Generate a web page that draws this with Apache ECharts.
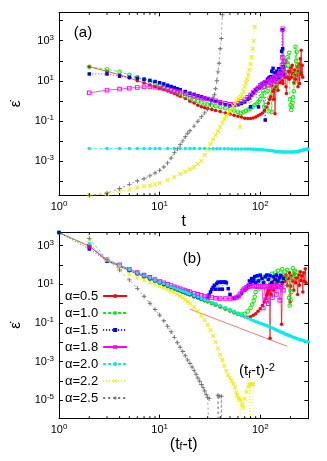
<!DOCTYPE html>
<html><head><meta charset="utf-8">
<script src="https://cdn.jsdelivr.net/npm/echarts@6/dist/echarts.min.js"></script>
<style>html,body{margin:0;padding:0;background:#fff}#c{width:327px;height:461px}</style>
</head><body><div id="c"></div>
<script>
// ---------- Panel (a): strain rate vs t ----------
const A_05 = [[2,50],[3,30],[4,20],[5,14],[6,10],[7,8],[8,6.2],[9,5.2],[10,4.3],[11,3.7],[12,3.1],[13,2.65],[14,2.3],[15,1.95],[16,1.7],[18,1.3],[20,0.95],[22,0.78],[24,0.6],[26,0.5],[28,0.45],[30,0.41],[33,0.37],[36,0.33],[40,0.29],[45,0.25],[50,0.22],[55,0.19],[60,0.17],[65,0.155],[70,0.135],[75,0.13],[80,0.13],[85,0.14],[90,0.155],[95,0.18],[100,0.21],[105,0.25],[110,0.33],[115,0.48],[120,0.75],[124,1.2],[127,1.6],[130,6],[132,12],[134,3],[136,1.2],[138,4],[140,0.23],[143,5],[146,12],[150,3.4],[154,20],[158,8],[162,25],[166,10],[168,7.4],[172,30],[176,15],[180,5],[182,2.3],[186,15],[190,30],[194,12],[196,28],[200,45],[204,15],[208,60],[212,23],[216,8],[220,35],[224,12],[229,19],[233,50],[237,5],[240,30],[243,70],[246,7.4],[249,126],[252,25],[255,340],[258,20],[261,60],[264,15]];
const A_10 = [[2,50],[3,38],[4,28],[5,20],[6,15],[7,11.5],[8,9],[9,7.5],[10,6],[11,5],[12,4.2],[13,3.6],[14,3.1],[15,2.6],[16,2.2],[18,1.7],[20,1.35],[22,1.1],[24,0.95],[26,0.82],[28,0.72],[30,0.65],[33,0.58],[36,0.53],[40,0.48],[45,0.43],[50,0.39],[55,0.33],[60,0.28],[64,0.25],[68,0.27],[72,0.32],[76,0.37],[80,0.42],[84,0.5],[88,0.6],[92,0.72],[96,0.9],[100,1.2],[103,1.8],[106,3],[109,0.5],[112,5],[115,8],[118,3],[121,0.3],[124,6],[127,12],[130,0.28],[134,10],[138,20],[142,5],[146,25],[150,12],[154,35],[158,15],[162,40],[166,20],[170,60],[174,25],[178,100],[182,40],[186,150],[190,60],[194,250],[197,1.2],[200,0.6],[203,0.35],[206,0.5],[209,0.8],[212,1.5],[215,3],[218,8],[221,20],[224,500],[227,100],[230,280],[233,60],[236,30]];
const A_15 = [[2,22],[3,22],[4,17],[5,15],[6,13.5],[7,12],[8,10.5],[9,9.2],[10,8],[11,7],[12,6],[13,5.2],[14,4.6],[15,4],[16,3.6],[18,2.9],[20,2.4],[22,2.1],[24,1.8],[26,1.6],[28,1.4],[30,1.25],[33,1.05],[36,0.92],[40,0.76],[45,0.65],[50,0.57],[55,0.58],[60,0.64],[65,0.74],[70,0.88],[75,1.2],[78,1.4],[80,0.5],[82,1.9],[86,2.6],[90,3.5],[93,4],[96,0.5],[98,4.5],[102,5.5],[106,7],[109,8],[112,0.11],[114,9],[118,12],[122,14],[126,16],[130,30],[132,10],[134,42],[137,15],[140,25],[143,12],[146,30],[149,20],[152,40],[155,15],[158,35],[161,25],[163,300],[165,3500],[167,400],[169,50],[171,20]];
const A_18 = [[2,2.5],[3,3.4],[4,3.85],[5,4.3],[6,4.7],[7,5],[8,5],[9,4.8],[10,4.4],[11,4.1],[12,3.7],[13,3.4],[14,3.1],[15,2.85],[16,2.65],[18,2.25],[20,1.98],[22,1.75],[24,1.55],[26,1.4],[28,1.3],[30,1.22],[33,1.12],[36,1.0],[40,0.85],[45,0.75],[50,0.67],[55,0.68],[60,0.76],[65,0.93],[70,1.15],[75,1.5],[80,1.95],[85,2.6],[90,3.4],[95,4.5],[100,6],[104,7],[108,5],[112,8.5],[116,9],[120,6],[124,11],[128,8],[132,13],[136,10],[140,15],[144,9],[148,18],[152,14],[155,23],[158,30],[161,20],[164,60],[166,150],[168,4000],[170,40],[172,90],[174,20],[176,89]];
const A_20 = [[2,4.2e-3],[3,4.2e-3],[4,4.2e-3],[5,4.2e-3],[6,4.2e-3],[7,4.2e-3],[8,4.2e-3],[9,4.2e-3],[10,4.2e-3],[12,4.2e-3],[14,4.2e-3],[16,4.2e-3],[18,4.2e-3],[20,4.2e-3],[22,4.2e-3],[25,4.2e-3],[28,4.2e-3],[31,4.1e-3],[34,4.1e-3],[37,4.1e-3],[40,4.1e-3],[44,4.1e-3],[48,4.1e-3],[52,4e-3],[56,4e-3],[60,4e-3],[65,4e-3],[70,3.9e-3],[75,3.9e-3],[80,3.9e-3],[85,3.8e-3],[90,3.8e-3],[95,3.7e-3],[100,3.7e-3],[106,3.6e-3],[112,3.5e-3],[118,3.4e-3],[124,3.3e-3],[130,3.2e-3],[136,3.1e-3],[142,3.0e-3],[148,2.95e-3],[154,2.9e-3],[160,2.85e-3],[166,2.8e-3],[172,2.8e-3],[178,2.8e-3],[184,2.8e-3],[190,2.8e-3],[196,2.8e-3],[202,2.8e-3],[208,2.8e-3],[214,2.8e-3],[220,2.85e-3],[226,2.9e-3],[232,2.95e-3],[238,3.0e-3],[244,3.1e-3],[250,3.2e-3],[256,3.3e-3],[262,3.4e-3],[268,3.5e-3],[274,3.6e-3],[280,3.7e-3],[286,3.8e-3],[292,3.9e-3],[298,4.0e-3]];
const A_22 = [[2,1.9e-5],[3,2.3e-5],[4,3.2e-5],[5,3.7e-5],[6,4.7e-5],[7,5.4e-5],[8,6e-5],[9,6.8e-5],[10,8e-5],[12,1.1e-4],[14,1.6e-4],[16,2.2e-4],[18,2.9e-4],[20,3.8e-4],[22,5e-4],[24,7e-4],[26,1e-3],[28,2e-3],[30,4e-3],[32,7e-3],[34,0.012],[36,0.02],[38,0.03],[40,0.05],[42,0.08],[44,0.12],[46,0.18],[48,0.25],[50,0.33],[52,0.42],[54,0.55],[56,0.7],[58,0.9],[60,1.2],[62,1.4],[63,0.05],[64,1.6],[66,2],[68,3],[70,5],[72,8],[74,12],[76,20],[78,35],[80,70],[82,150],[84,400],[86,1000],[88,5000]];
const A_25 = [[2,1.9e-5],[3,2.5e-5],[4,4.2e-5],[5,6.8e-5],[6,1e-4],[7,1.3e-4],[8,1.8e-4],[9,2.5e-4],[10,3.4e-4],[11,5e-4],[12,8e-4],[13,1.4e-3],[14,2.6e-3],[15,4e-3],[16,6.5e-3],[17,0.01],[18,0.016],[19,0.024],[20,0.032],[22,0.055],[24,0.095],[26,0.16],[28,0.25],[30,0.38],[32,0.7],[34,1.4],[35,2],[36,4],[37,10],[38,28],[39,75],[40,400],[41,1300],[42,20000],[43,300000]];

// ---------- Panel (b): strain rate vs (tf - t) ----------
const B_05 = [[1,4800],[2,950],[3,165],[4,88],[5,51],[6,34],[7,24.5],[8,18.5],[9,14.5],[10,11.4],[11,9.3],[12,7.8],[13,6.6],[14,5.7],[15,5],[16,4.4],[17,3.9],[18,3.5],[19,3.1],[20,2.8],[22,2.3],[24,1.95],[26,1.65],[28,1.4],[30,1.25],[33,1.02],[36,0.85],[40,0.68],[45,0.53],[50,0.42],[55,0.34],[60,0.28],[65,0.24],[70,0.21],[75,0.2],[80,0.21],[85,0.25],[90,0.3],[95,0.4],[100,0.55],[105,0.8],[110,1.2],[113,1.8],[116,2.7],[118,3.5],[120,4.8],[122,7],[124,10],[125,0.016],[126,6],[128,3],[130,9],[133,14],[136,5],[140,11],[143,18],[146,7],[150,13],[155,22],[160,9],[163,0.085],[166,12],[170,25],[175,14],[180,30],[185,9],[190,20],[195,40],[198,1.2],[200,8],[205,28],[210,15],[215,5],[220,35],[225,12],[230,22],[235,3],[240,30],[245,9],[250,45],[255,16],[260,28],[265,4],[270,40],[275,14],[280,65],[285,12]];
const B_10 = [[1,4800],[2,950],[3,170],[4,92],[5,54],[6,36],[7,26],[8,19.5],[9,15.3],[10,12],[11,9.8],[12,8.2],[13,7],[14,6],[15,5.3],[16,4.6],[17,4.1],[18,3.7],[19,3.3],[20,2.95],[22,2.45],[24,2.05],[26,1.75],[28,1.5],[30,1.32],[33,1.08],[36,0.9],[40,0.72],[45,0.56],[50,0.45],[55,0.36],[60,0.3],[65,0.27],[70,0.3],[75,0.4],[80,0.6],[83,0.9],[86,1.4],[88,2.3],[90,4],[92,8],[95,14],[98,6],[100,18],[105,10],[110,25],[115,8],[120,30],[125,15],[130,35],[135,10],[140,40],[145,20],[150,50],[155,15],[160,30],[165,60],[170,20],[175,45],[180,25],[185,55],[190,8],[193,2],[196,0.8],[200,1.5],[204,4],[207,20],[211,68],[215,35],[220,50],[225,30],[230,45]];
const B_15 = [[1,4800],[2,680],[3,160],[4,90],[5,54],[6,37],[7,27],[8,20],[9,15.8],[10,12.5],[11,10.2],[12,8.6],[13,7.3],[14,6.3],[15,5.5],[16,4.8],[17,4.3],[18,3.85],[19,3.45],[20,3.1],[22,2.55],[24,2.15],[26,1.85],[28,1.65],[30,1.8],[31,2.8],[32,4],[33,5.5],[34,7],[35,9],[36,5.6],[37,11],[38,13],[39,5.6],[40,13],[41,13],[42,5.6],[43,13],[44,13],[45,13],[46,12],[48,6],[50,3],[55,1.9],[60,2.3],[65,3.5],[70,5],[73,6],[76,9],[78,15],[80,10],[82,20],[84,14],[86,18],[88,25],[90,12],[93,28],[96,15],[100,30],[104,20],[108,12],[112,25],[116,30],[120,18],[125,28],[130,12],[135,25],[140,18],[145,30],[150,15],[155,22],[160,28],[165,12],[170,20]];
const B_18 = [[2,950],[3,190],[4,102],[5,61],[6,41],[7,30],[8,23],[9,18],[10,14.5],[11,12],[12,10],[13,8.6],[14,7.5],[15,6.6],[16,5.9],[17,5.3],[18,4.8],[19,4.4],[20,4.1],[22,3.5],[24,3.05],[26,2.7],[28,2.45],[30,2.25],[33,2.05],[36,1.9],[40,1.85],[45,1.85],[50,1.85],[55,1.9],[58,2.1],[61,2.5],[63,3.2],[66,4.2],[68,5.2],[70,6],[73,7],[76,7.5],[80,8],[84,8.2],[88,8],[92,7.8],[96,8],[100,7.6],[104,8],[107,0.6],[110,7.8],[114,1.5],[117,8],[120,1],[124,7.5],[128,8],[132,2],[136,7.6],[140,8],[144,3],[148,7.8],[152,8],[156,1.5],[160,7],[165,9],[170,5]];
const B_20 = [[2,1300],[3,185],[4,100],[5,58],[6,39],[7,28],[8,21],[9,16.5],[10,13],[11,10.6],[12,8.9],[13,7.6],[14,6.5],[15,5.7],[16,5.0],[17,4.4],[18,3.95],[19,3.5],[20,3.15],[22,2.6],[24,2.2],[26,1.85],[28,1.6],[30,1.4],[33,1.15],[36,0.95],[40,0.77],[45,0.6],[50,0.45],[55,0.37],[60,0.3],[65,0.25],[70,0.21],[75,0.18],[80,0.155],[85,0.135],[90,0.12],[95,0.108],[100,0.097],[105,0.088],[110,0.08],[115,0.073],[120,0.067],[125,0.061],[130,0.056],[135,0.051],[140,0.047],[145,0.043],[150,0.04],[155,0.037],[160,0.034],[165,0.032],[170,0.03],[175,0.028],[180,0.026],[185,0.0245],[190,0.023],[195,0.022],[200,0.021],[210,0.019],[220,0.017],[230,0.0155],[240,0.0145],[250,0.0135],[260,0.0127],[270,0.012],[280,0.0114],[290,0.0109],[300,0.0105]];
const B_22 = [[2,2000],[3,195],[4,80],[5,33],[6,22],[7,16.5],[8,12.5],[9,9.8],[10,7.8],[11,6.4],[12,5.3],[13,4.5],[14,3.8],[15,3.1],[16,2.5],[17,2],[18,1.6],[19,1.26],[20,1.0],[22,0.65],[24,0.4],[26,0.24],[28,0.14],[30,0.08],[32,0.043],[34,0.021],[36,0.01],[38,0.0048],[40,0.0023],[42,0.0012],[44,6e-4],[46,3.3e-4],[48,2e-4],[50,1.4e-4],[52,1e-4],[54,7e-5],[56,4.5e-5],[58,2.5e-5],[59,1.8e-5],[61,1.3e-5],[62,1.1e-5],[63,1e-9],[64,1e-5],[66,6e-6],[68,4e-6],[70,1.2e-5],[73,2.7e-5],[76,5e-5],[78,6.5e-5],[79,1e-9],[80,6.6e-5],[83,6.6e-5],[85,6.6e-5],[86,1e-9]];
const B_25 = [[2,2400],[3,190],[4,55],[5,17],[6,6.2],[7,2.4],[8,1.05],[9,0.5],[10,0.26],[11,0.13],[12,0.067],[13,0.035],[14,0.018],[15,0.0095],[16,0.0055],[17,0.0033],[18,0.002],[19,0.0012],[20,0.0008],[21,0.00052],[22,0.00034],[23,0.00022],[24,0.00014],[25,9.5e-5],[26,6.5e-5],[27,4.5e-5],[28,3e-5],[29,2e-5],[30,1.4e-5],[31,1.2e-5],[32,1e-9],[37,1e-9],[38,1.8e-5],[39,1.6e-5],[40,1e-9],[41,1.6e-5],[42,1e-9]];
const B_powerLaw = [[20,0.52],[185,0.0062]];

const seriesNames = ['α=0.5','α=1.0','α=1.5','α=1.8','α=2.0','α=2.2','α=2.5'];
const panelA = [A_05, A_10, A_15, A_18, A_20, A_22, A_25];
const panelB = [B_05, B_10, B_15, B_18, B_20, B_22, B_25];
const minorTicks = [2,3,4,5,6,7,8,9,20,30,40,50,60,70,80,90,200];

// ---------- styles ----------
const RING = 'path://M5,0A5,5 0 1,1 5,10A5,5 0 1,1 5,0ZM5,2A3,3 0 1,0 5,8A3,3 0 1,0 5,2Z';
const SQRING = 'path://M0,0H10V10H0ZM2,2V8H8V2Z';
const XSYM = 'path://M0,1.5L1.5,0L5,3.5L8.5,0L10,1.5L6.5,5L10,8.5L8.5,10L5,6.5L1.5,10L0,8.5L3.5,5Z';
const PLUS = 'path://M4,0H6V4H10V6H6V10H4V6H0V4H4Z';
const st = [
  {c:'#ff0000', s:'circle', z:3.5, d:'solid'},
  {c:'#00ee00', s:RING, z:4.5, d:[3,2]},
  {c:'#0000ff', s:'rect', z:3.5, d:[1,2]},
  {c:'#ff00ff', s:SQRING, z:4.5, d:'solid'},
  {c:'#00eeee', s:'circle', z:3.5, d:[3,2]},
  {c:'#eeee00', s:XSYM, z:4.5, d:[1,2]},
  {c:'#707070', s:PLUS, z:4.5, d:[2,3]}
];
const FONT = 'Liberation Sans, Arial, sans-serif';

function powLabel(oddOnly){
  return function(v){
    const l = Math.log10(v), e = Math.round(l);
    if (Math.abs(l - e) > 1e-6) return '';
    if (oddOnly && Math.abs(e % 2) !== 1) return '';
    return '{b|10}{s|' + e + '}';
  };
}
const labRich = {
  b:{fontSize:11, fontFamily:FONT, color:'#000', lineHeight:14},
  s:{fontSize:8, fontFamily:FONT, color:'#000', lineHeight:8, verticalAlign:'top'}
};
function xAx(grid, pos, labels, name, nameGap){
  return {type:'log', gridIndex:grid, position:pos, min:1, max:300,
    name: name || '', nameLocation:'middle', nameGap: nameGap || 0,
    nameTextStyle:{fontSize:16, fontFamily:FONT, color:'#000',
      rich:{n:{fontSize:16,fontFamily:FONT,color:'#000'}, sub:{fontSize:10,fontFamily:FONT,color:'#000',verticalAlign:'bottom',lineHeight:12}}},
    axisLine:{show:true, onZero:false, lineStyle:{color:'#000', width:1}},
    axisTick:{show:true, inside:true, length:4, lineStyle:{color:'#000'}},
    axisLabel:{show:labels, margin:4, formatter:powLabel(false), rich:labRich},
    splitLine:{show:false}};
}
function yAx(grid, pos, labels, min, max){
  return {type:'log', gridIndex:grid, position:pos, min:min, max:max,
    name: labels ? 'ε\u0307' : '', nameLocation:'middle', nameGap:36, nameRotate:90,
    nameTextStyle:{fontSize:15, fontFamily:FONT, color:'#000'},
    axisLine:{show:true, onZero:false, lineStyle:{color:'#000', width:1}},
    axisTick:{show:true, inside:true, length:4, lineStyle:{color:'#000'}},
    axisLabel:{show:labels, margin:5, formatter:powLabel(true), rich:labRich},
    splitLine:{show:false}};
}

const series = [];
function addPanel(sets, xi, yi){
  sets.forEach(function(d, i){
    series.push({type:'line', name:seriesNames[i], xAxisIndex:xi, yAxisIndex:yi, data:d,
      symbol:st[i].s, symbolSize:st[i].z, showAllSymbol:true, clip:true,
      lineStyle:{width:0.7, type:st[i].d, color:st[i].c},
      itemStyle:{color:st[i].c}, emphasis:{disabled:true}, silent:true, animation:false});
  });
}
addPanel(panelA, 0, 0);
addPanel(panelB, 2, 2);
series.push({type:'line', name:'powerlaw', xAxisIndex:2, yAxisIndex:2, data:B_powerLaw,
  symbol:'none', lineStyle:{width:1, color:'#ff7777'}, silent:true, animation:false});
function minorSeries(xi, yi){
  return {type:'custom', xAxisIndex:xi, yAxisIndex:yi, silent:true, animation:false, z:10,
    data:minorTicks.map(function(v){return [v,1];}),
    renderItem:function(params, api){
      const x = api.coord([api.value(0), 1])[0];
      const cs = params.coordSys;
      const yb = cs.y + cs.height, yt = cs.y;
      return {type:'group', children:[
        {type:'line', shape:{x1:x,y1:yb,x2:x,y2:yb-2.5}, style:{stroke:'#000', lineWidth:1}},
        {type:'line', shape:{x1:x,y1:yt,x2:x,y2:yt+2.5}, style:{stroke:'#000', lineWidth:1}}
      ]};
    }};
}
series.push(minorSeries(0,0));
series.push(minorSeries(2,2));

const chart = echarts.init(document.getElementById('c'), null, {renderer:'canvas'});
chart.setOption({
  animation:false,
  backgroundColor:'#fff',
  grid:[
    {left:56.7, right:18.7, top:12.3, bottom:265.3},
    {left:56.7, right:18.7, top:232.3, bottom:42.3}
  ],
  xAxis:[
    xAx(0,'bottom',true,'t',14),
    xAx(0,'top',false),
    xAx(1,'bottom',true,'{n|(t}{sub|f}{n|-t)}',12),
    xAx(1,'top',false)
  ],
  yAxis:[
    yAx(0,'left',true,1.84e-5,2.63e4),
    yAx(0,'right',false,1.84e-5,2.63e4),
    yAx(1,'left',true,1.1e-6,4950),
    yAx(1,'right',false,1.1e-6,4950)
  ],
  legend:{data:seriesNames, orient:'vertical', left:65, top:289, padding:0,
    align:'right', itemWidth:24, itemHeight:5, itemGap:3, selectedMode:false,
    textStyle:{fontSize:13, fontFamily:FONT, color:'#000', lineHeight:14}},
  graphic:[
    {type:'text', x:83, y:33, style:{text:'(a)', font:'15px '+FONT, fill:'#000', align:'center', verticalAlign:'middle'}},
    {type:'text', x:192, y:258.5, style:{text:'(b)', font:'15px '+FONT, fill:'#000', align:'center', verticalAlign:'middle'}},
    {type:'text', x:239, y:371, style:{text:'{n|(t}{sub|f}{n|-t)}{sup|-2}', align:'left', verticalAlign:'middle', fill:'#000',
      rich:{n:{fontSize:15,fontFamily:FONT,fill:'#000',lineHeight:18}, sub:{fontSize:10,fontFamily:FONT,fill:'#000',verticalAlign:'bottom',lineHeight:10}, sup:{fontSize:11,fontFamily:FONT,fill:'#000',verticalAlign:'top',lineHeight:11}}}}
  ],
  series:series
});
</script></body></html>
